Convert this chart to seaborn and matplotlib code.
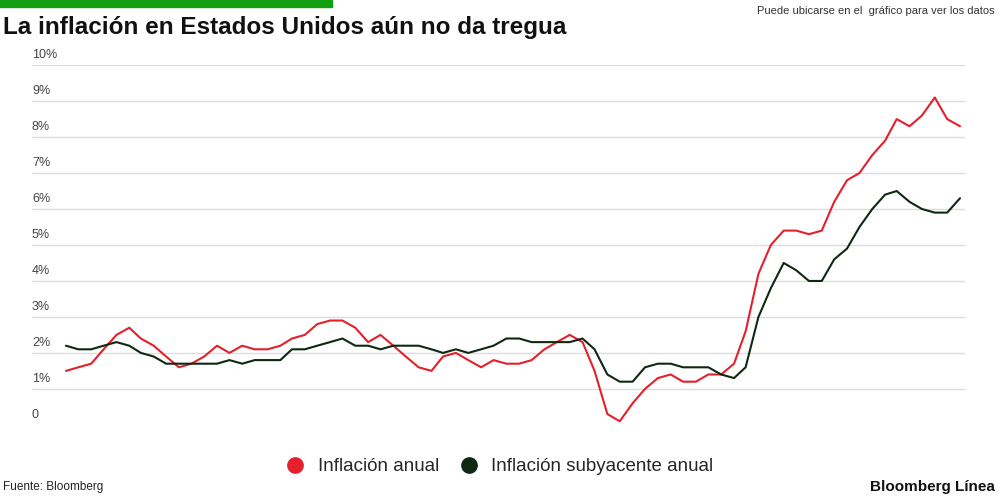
import numpy as np
import pandas as pd
import seaborn as sns
import matplotlib.pyplot as plt
from matplotlib.lines import Line2D

# Monthly, Sep 2016 - Aug 2022
months = pd.date_range("2016-09-01", "2022-08-01", freq="MS")

inflacion = [1.5, 1.6, 1.7, 2.1,
             2.5, 2.7, 2.4, 2.2, 1.9, 1.6, 1.7, 1.9, 2.2, 2.0, 2.2, 2.1,
             2.1, 2.2, 2.4, 2.5, 2.8, 2.9, 2.9, 2.7, 2.3, 2.5, 2.2, 1.9,
             1.6, 1.5, 1.9, 2.0, 1.8, 1.6, 1.8, 1.7, 1.7, 1.8, 2.1, 2.3,
             2.5, 2.3, 1.5, 0.3, 0.1, 0.6, 1.0, 1.3, 1.4, 1.2, 1.2, 1.4,
             1.4, 1.7, 2.6, 4.2, 5.0, 5.4, 5.4, 5.3, 5.4, 6.2, 6.8, 7.0,
             7.5, 7.9, 8.5, 8.3, 8.6, 9.1, 8.5, 8.3]
subyacente = [2.2, 2.1, 2.1, 2.2,
              2.3, 2.2, 2.0, 1.9, 1.7, 1.7, 1.7, 1.7, 1.7, 1.8, 1.7, 1.8,
              1.8, 1.8, 2.1, 2.1, 2.2, 2.3, 2.4, 2.2, 2.2, 2.1, 2.2, 2.2,
              2.2, 2.1, 2.0, 2.1, 2.0, 2.1, 2.2, 2.4, 2.4, 2.3, 2.3, 2.3,
              2.3, 2.4, 2.1, 1.4, 1.2, 1.2, 1.6, 1.7, 1.7, 1.6, 1.6, 1.6,
              1.4, 1.3, 1.6, 3.0, 3.8, 4.5, 4.3, 4.0, 4.0, 4.6, 4.9, 5.5,
              6.0, 6.4, 6.5, 6.2, 6.0, 5.9, 5.9, 6.3]

red = "#e3202b"
dark = "#0e2812"

df = pd.DataFrame({"mes": months, "Inflación anual": inflacion,
                   "Inflación subyacente anual": subyacente})

sns.set_style("white")
plt.rcParams['font.family'] = ['Liberation Sans', 'DejaVu Sans']

fig = plt.figure(figsize=(10, 5.01), dpi=100)
ax = fig.add_axes([0.032, 0.152, 0.933, 0.718])

sns.lineplot(data=df, x="mes", y="Inflación anual", color=red, lw=1.5, ax=ax)
sns.lineplot(data=df, x="mes", y="Inflación subyacente anual", color=dark, lw=1.5, ax=ax)

ax.set_ylim(0, 10)
ax.set_xlim(months[0] - pd.Timedelta(days=82), months[-1] + pd.Timedelta(days=12))
for v in range(0, 11):
    if v > 0:
        ax.axhline(v, color="#dcdcdc", lw=1, zorder=0)
    lab = "0" if v == 0 else f"{v}%"
    ax.text(0.0, v + 0.12, lab, transform=ax.get_yaxis_transform(),
            fontsize=9, color="#444444", ha="left", va="bottom")
ax.set_xticks([])
ax.set_yticks([])
ax.set_xlabel("")
ax.set_ylabel("")
for s in ax.spines.values():
    s.set_visible(False)

fig.patches.append(plt.Rectangle((0, 0.986), 0.332, 0.014, transform=fig.transFigure,
                                 color="#12a012"))
fig.text(0.003, 0.945, "La inflación en Estados Unidos aún no da tregua",
         fontsize=17.5, fontweight="bold", va="center", ha="left", color="#111111")
fig.text(0.995, 0.978, "Puede ubicarse en el  gráfico para ver los datos",
         fontsize=8, ha="right", va="center", color="#333333")
fig.text(0.003, 0.027, "Fuente: Bloomberg", fontsize=8.5, va="center", color="#222222")
fig.text(0.995, 0.027, "Bloomberg Línea", fontsize=11, fontweight="bold",
         ha="right", va="center", color="#111111")

handles = [Line2D([], [], marker="o", ls="", ms=11, color=red),
           Line2D([], [], marker="o", ls="", ms=11, color=dark)]
fig.legend(handles, ["Inflación anual", "Inflación subyacente anual"],
           loc="center", bbox_to_anchor=(0.495, 0.068), ncol=2, frameon=False,
           fontsize=13.5, handletextpad=0.2, columnspacing=0.6)

fig.savefig("out.png", dpi=100)
